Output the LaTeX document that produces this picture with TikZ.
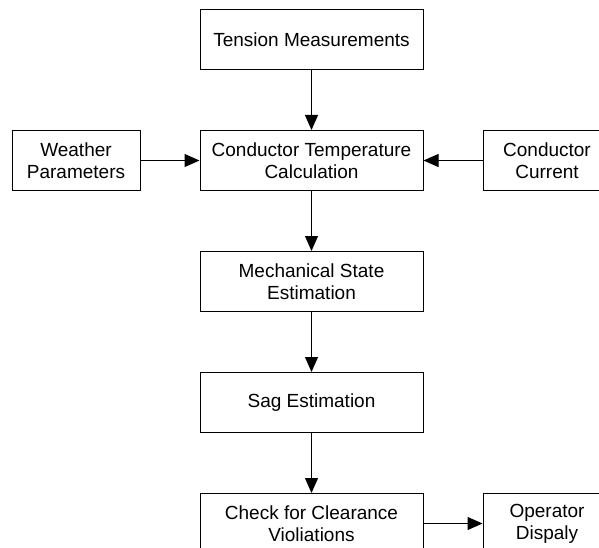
\documentclass[tikz,border=0pt]{standalone}
\usepackage{fontspec}
\setmainfont{Liberation Sans}
\usepackage{tikz}
\usetikzlibrary{arrows.meta, positioning}

\begin{document}
\begin{tikzpicture}[
  x=1pt, y=1pt,
  every node/.style={font=\fontsize{19}{22}\selectfont},
  block/.style={draw, line width=1pt, align=center, inner sep=0pt,
    minimum height=60pt},
  wide/.style={block, minimum width=223pt},
  narrow/.style={block, minimum width=128pt},
  flow/.style={-{Triangle[length=15pt, width=13pt]}, line width=1pt},
  node distance=60pt and 59pt]
  % page
  \clip (0,0) rectangle (599,-548);
  % central chain
  \node[wide] (tension) at (311.5,-39.5) {Tension Measurements};
  \node[wide, below=of tension] (temp) {Conductor Temperature\\Calculation};
  \node[wide, below=of temp] (mech) {Mechanical State\\Estimation};
  \node[wide, below=of mech] (sag) {Sag Estimation};
  \node[wide, below=of sag] (check) {Check for Clearance\\Violiations};
  % side inputs / output
  \node[narrow, left=of temp] (weather) {Weather\\Parameters};
  \node[narrow, right=of temp] (current) {Conductor\\Current};
  \node[narrow, right=of check] (display) {Operator\\Dispaly};
  % arrows
  \draw[flow] (tension) -- (temp);
  \draw[flow] (weather) -- (temp);
  \draw[flow] (current) -- (temp);
  \draw[flow] (temp) -- (mech);
  \draw[flow] (mech) -- (sag);
  \draw[flow] (sag) -- (check);
  \draw[flow] (check) -- (display);
\end{tikzpicture}
\end{document}
